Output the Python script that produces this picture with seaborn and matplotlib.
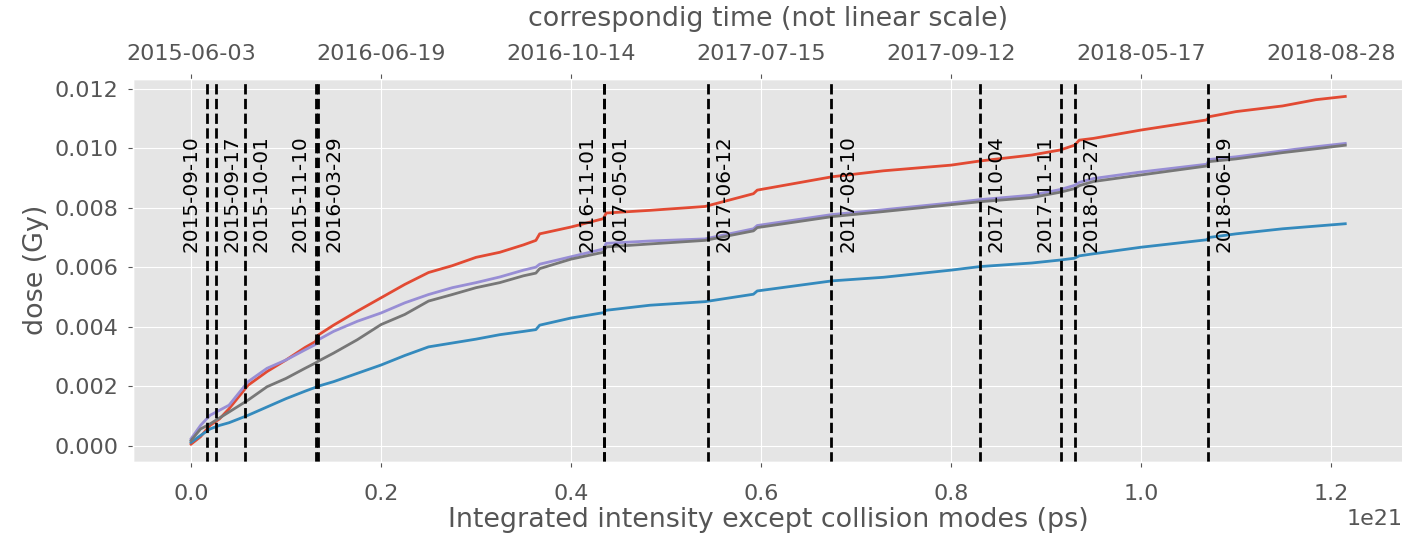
import pandas as pd
import matplotlib
matplotlib.use("Agg")
import matplotlib.pyplot as plt
import seaborn as sns
import numpy as np

# integrated intensity (units of 1e21 ps)
intensity = [0, 0.01, 0.02, 0.03, 0.04, 0.06, 0.08, 0.10, 0.12, 0.131, 0.134, 0.15,
             0.175, 0.2, 0.225, 0.25, 0.275, 0.3, 0.325, 0.35, 0.363, 0.367, 0.4,
             0.434, 0.437, 0.483, 0.541, 0.592, 0.596, 0.675, 0.729, 0.80, 0.8305,
             0.885, 0.915, 0.930, 0.935, 0.95, 1.0, 1.069, 1.072, 1.10, 1.149,
             1.184, 1.215]

dose_red = [0.00005, 0.0003, 0.00068, 0.0009, 0.00124, 0.00203, 0.00249, 0.00288,
            0.0033, 0.0035, 0.00372, 0.00405, 0.00452, 0.00497, 0.00542, 0.00582,
            0.00605, 0.00633, 0.0065, 0.00675, 0.0069, 0.00712, 0.00735, 0.00763,
            0.00782, 0.00791, 0.00804, 0.00847, 0.00859, 0.00904, 0.00924, 0.00943,
            0.00957, 0.00977, 0.00994, 0.0101, 0.01027, 0.01033, 0.01061, 0.01095,
            0.01106, 0.01123, 0.01142, 0.01163, 0.01174]
dose_blue = [0.00011, 0.00034, 0.00056, 0.00068, 0.00077, 0.00102, 0.0013, 0.00158,
             0.00183, 0.00196, 0.002, 0.00215, 0.00243, 0.00271, 0.00303, 0.00332,
             0.00345, 0.00358, 0.00373, 0.00384, 0.0039, 0.00405, 0.00429, 0.00447,
             0.00455, 0.00472, 0.00484, 0.00509, 0.0052, 0.00554, 0.00566, 0.0059,
             0.00602, 0.00614, 0.00624, 0.0063, 0.00638, 0.00645, 0.00667, 0.00692,
             0.007, 0.00712, 0.00729, 0.00738, 0.00746]
dose_purple = [0.00023, 0.00068, 0.00102, 0.00119, 0.00136, 0.00215, 0.0026, 0.00288,
               0.00322, 0.0034, 0.00356, 0.00384, 0.00418, 0.00446, 0.0048, 0.00508,
               0.00531, 0.00548, 0.00567, 0.0059, 0.006, 0.0061, 0.00635, 0.00661,
               0.0068, 0.00688, 0.00695, 0.00729, 0.0074, 0.00777, 0.00793, 0.00816,
               0.00827, 0.00842, 0.00861, 0.00875, 0.00885, 0.00898, 0.0092, 0.00946,
               0.00962, 0.00971, 0.00991, 0.01005, 0.01016]
dose_gray = [0.00017, 0.00056, 0.00073, 0.00093, 0.00113, 0.00153, 0.00198, 0.00226,
             0.0026, 0.00278, 0.00284, 0.00311, 0.00356, 0.00407, 0.00441, 0.00486,
             0.00508, 0.00531, 0.00548, 0.00571, 0.0058, 0.00595, 0.00627, 0.0065,
             0.00668, 0.00678, 0.0069, 0.00722, 0.00733, 0.0077, 0.00787, 0.0081,
             0.0082, 0.00834, 0.00852, 0.00864, 0.00874, 0.00888, 0.0091, 0.0094,
             0.00955, 0.00964, 0.00985, 0.00998, 0.0101]

# marked dates and where they fall on the intensity axis (1e21 ps)
event_dates = ['2015-09-10', '2015-09-17', '2015-10-01', '2015-11-10', '2016-03-29',
               '2016-11-01', '2017-05-01', '2017-06-12', '2017-08-10', '2017-10-04',
               '2017-11-11', '2018-03-27', '2018-06-19']
event_pos = [0.0168, 0.0263, 0.0568, 0.1316, 0.1337, 0.4345, 0.4347, 0.544, 0.674,
             0.8305, 0.9158, 0.9305, 1.0705]

top_ticks = [0.0, 0.2, 0.4, 0.6, 0.8, 1.0, 1.2]
top_labels = ['2015-06-03', '2016-06-19', '2016-10-14', '2017-07-15', '2017-09-12',
              '2018-05-17', '2018-08-28']

plt.style.use('ggplot')
plt.rcParams['xtick.labelsize'] = 16
plt.rcParams['ytick.labelsize'] = 16
plt.rcParams['axes.labelsize'] = 19.4

df = pd.DataFrame({
    'x': intensity * 4,
    'dose': dose_red + dose_blue + dose_purple + dose_gray,
    'series': ['red'] * len(intensity) + ['blue'] * len(intensity)
              + ['purple'] * len(intensity) + ['gray'] * len(intensity),
})
df['x'] = df['x'] * 1e21

fig = plt.figure(figsize=(14.02, 5.33), dpi=100)
ax = fig.add_axes([0.0951, 0.1341, 0.9056, 0.7176])
sns.lineplot(data=df, x='x', y='dose', hue='series',
             palette=['#E24A33', '#348ABD', '#988ED5', '#777777'],
             linewidth=2, legend=False, ax=ax)

for i, (d, p) in enumerate(zip(event_dates, event_pos)):
    ax.axvline(p * 1e21, color='black', linestyle='--', linewidth=2)
    # put the label on the left when the next line is very close
    close = i + 1 < len(event_pos) and event_pos[i + 1] - p < 0.03
    ax.annotate(d, xy=(p * 1e21, 0.0065), xytext=(-5 if close else 5, 0),
                textcoords='offset points', rotation=90,
                ha='right' if close else 'left', va='bottom',
                fontsize=14.4, color='black')

ax.tick_params(axis='x', pad=13)
ax.tick_params(axis='y', pad=7)
ax.set_xlabel('Integrated intensity except collision modes (ps)', labelpad=2)
ax.set_ylabel('dose (Gy)')

ax2 = ax.twiny()
ax2.set_xlim(ax.get_xlim())
ax2.set_xticks([t * 1e21 for t in top_ticks])
ax2.set_xticklabels(top_labels)
ax2.tick_params(axis='x', pad=7)
ax2.grid(False)
ax2.set_xlabel('correspondig time (not linear scale)', labelpad=13)

fig.savefig('out.png', dpi=100)
